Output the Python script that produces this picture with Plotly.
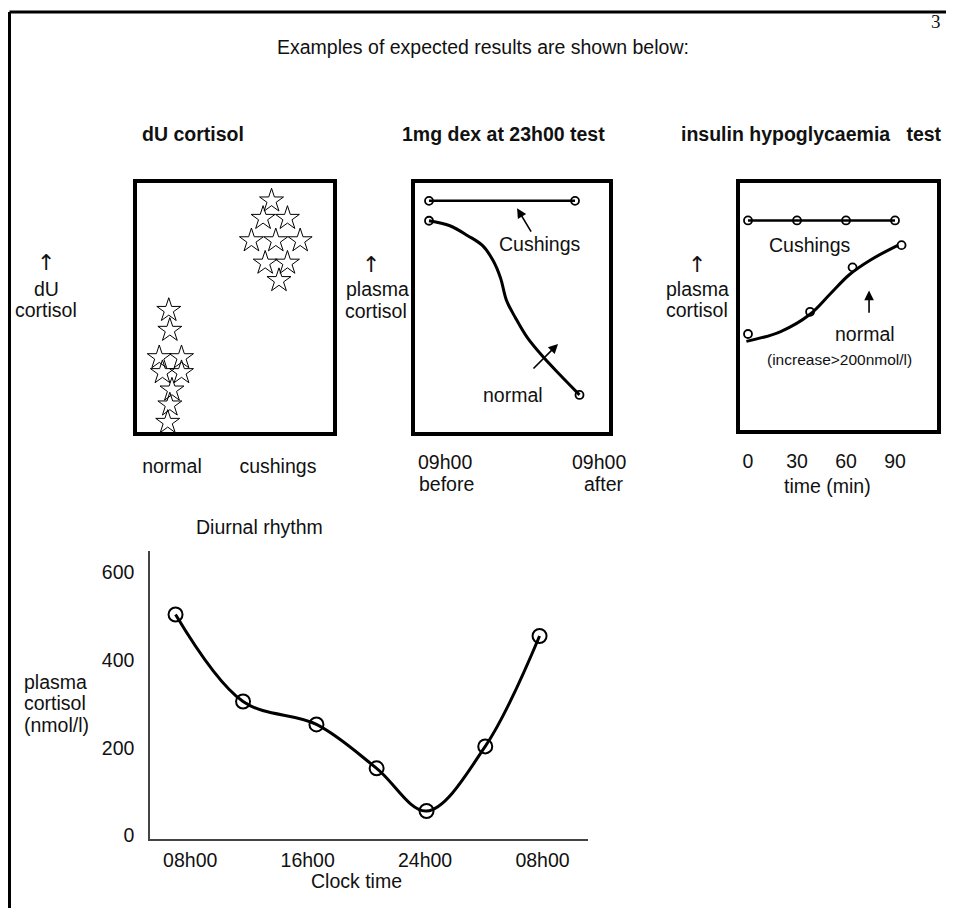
import plotly.graph_objects as go

# the page body has an 8px margin, so the figure is drawn 8px smaller than the window
PAGE = 8
W, H = 954 - PAGE, 924 - 2 * PAGE

# dU cortisol (arbitrary units); x = group (0 normal, 1 cushings) with scatter
du_groups = ["normal", "cushings"]
du_normal_x = [-0.03, -0.02, -0.12, 0.09, -0.09, 0.09, 0.0, -0.02, -0.04]
du_normal_y = [49, 41, 30, 30, 24, 24, 17, 11, 4]
du_cushing_x = [0.94, 0.86, 1.09, 0.75, 0.98, 1.21, 0.88, 1.09, 1.01]
du_cushing_y = [93, 86, 86, 77, 77, 77, 68, 68, 61]

# 1mg dex at 23h00 (0 = 09h00 before, 1 = 09h00 after)
dex_cushing_x = [0, 0.98]
dex_cushing_y = [93, 93]
dex_curve_x = [0, 0.14, 0.26, 0.36, 0.43, 0.48, 0.52, 0.58, 0.66, 0.77, 0.88, 1.01]
dex_curve_y = [85, 83, 79, 75, 69, 62, 53, 46, 38, 30, 23, 15]
dex_normal_x = [0, 1.01]
dex_normal_y = [85, 15]

# insulin hypoglycaemia test
ins_time = [0, 30, 60, 90]
ins_cushing = [85, 85, 85, 85]
ins_normal_t = [0, 38, 64, 94]
ins_normal = [39, 48, 66, 75]
ins_curve_t = [-1, 20, 38, 50, 62, 75, 92]
ins_curve = [36, 40, 47, 55, 63, 69, 75]

# diurnal rhythm
clock_h = [7.0, 11.6, 16.6, 20.7, 24.1, 28.1, 31.8]
cortisol = [503, 305, 253, 153, 56, 203, 454]
clock_ticks = [8, 16, 24, 32]
clock_labels = ["08h00", "16h00", "24h00", "08h00"]
cort_ticks = [0, 200, 400, 600]

FONT = "Liberation Sans, Arial, sans-serif"
INK = "#111111"
FS = 19.5


def fx(px):
    return (px - PAGE) / W


def fy(py):
    return 1 - (py - PAGE) / H


def box_axis(x0, x1, rng, anchor, **kw):
    d = dict(
        domain=[fx(x0), fx(x1)], range=rng, anchor=anchor,
        showline=True, mirror=True, linecolor="black", linewidth=4,
        showgrid=False, zeroline=False, ticks="", fixedrange=True,
    )
    d.update(kw)
    return d


fig = go.Figure()

# panel 1: stars
star = dict(symbol="star-open", size=18, color="black", line=dict(width=1, color="black"))
fig.add_trace(go.Scatter(x=du_normal_x, y=du_normal_y, mode="markers", marker=star,
                         xaxis="x", yaxis="y"))
fig.add_trace(go.Scatter(x=du_cushing_x, y=du_cushing_y, mode="markers", marker=star,
                         xaxis="x", yaxis="y"))

# panel 2: dex test
small_o = dict(symbol="circle-open", size=8, color="black", line=dict(width=1.8))
fig.add_trace(go.Scatter(x=dex_cushing_x, y=dex_cushing_y, mode="lines+markers",
                         line=dict(color="black", width=2.5), marker=small_o,
                         xaxis="x2", yaxis="y2"))
fig.add_trace(go.Scatter(x=dex_curve_x, y=dex_curve_y, mode="lines",
                         line=dict(color="black", width=3, shape="spline", smoothing=1),
                         xaxis="x2", yaxis="y2"))
fig.add_trace(go.Scatter(x=dex_normal_x, y=dex_normal_y, mode="markers", marker=small_o,
                         xaxis="x2", yaxis="y2"))

# panel 3: insulin test
fig.add_trace(go.Scatter(x=ins_time, y=ins_cushing, mode="lines+markers",
                         line=dict(color="black", width=2.5), marker=small_o,
                         xaxis="x3", yaxis="y3"))
fig.add_trace(go.Scatter(x=ins_curve_t, y=ins_curve, mode="lines",
                         line=dict(color="black", width=3, shape="spline", smoothing=1),
                         xaxis="x3", yaxis="y3"))
fig.add_trace(go.Scatter(x=ins_normal_t, y=ins_normal, mode="markers", marker=small_o,
                         xaxis="x3", yaxis="y3"))

# bottom: diurnal rhythm
fig.add_trace(go.Scatter(x=clock_h, y=cortisol, mode="lines+markers",
                         line=dict(color="black", width=3, shape="spline", smoothing=1),
                         marker=dict(symbol="circle-open", size=14, color="black",
                                     line=dict(width=2)),
                         xaxis="x4", yaxis="y4"))

tick_font = dict(family=FONT, size=FS, color=INK)


def box_yaxis(y0, y1, anchor):
    return dict(domain=[fy(y1), fy(y0)], range=[0, 100], anchor=anchor, showline=True,
                mirror=True, linecolor="black", linewidth=4, showgrid=False,
                zeroline=False, showticklabels=False, ticks="")


fig.update_layout(
    width=W, height=H, autosize=False,
    margin=dict(l=0, r=0, t=0, b=0),
    paper_bgcolor="white", plot_bgcolor="white",
    showlegend=False,
    font=dict(family=FONT, size=FS, color=INK),
    xaxis=box_axis(137, 333, [-0.33, 1.52], "y", tickvals=[0, 1], ticktext=du_groups,
                   tickfont=tick_font, ticklabelstandoff=13),
    yaxis=box_yaxis(185, 436, "x"),
    xaxis2=box_axis(415, 609, [-0.094, 1.208], "y2", showticklabels=False),
    yaxis2=box_yaxis(185, 436, "x2"),
    xaxis3=box_axis(740, 937, [-4.9, 115.7], "y3", tickvals=ins_time,
                    tickfont=tick_font, ticklabelstandoff=10),
    yaxis3=box_yaxis(185, 434, "x3"),
    xaxis4=dict(domain=[fx(150), fx(588)], range=[5.26, 35.1], anchor="y4",
                showline=True, linecolor="#444444", linewidth=1.5, showgrid=False,
                zeroline=False, ticks="", tickvals=clock_ticks, ticktext=clock_labels,
                tickfont=tick_font, ticklabelstandoff=3),
    yaxis4=dict(domain=[fy(846), fy(556)], range=[-6.8, 647], anchor="x4",
                showline=True, linecolor="#444444", linewidth=1.5, showgrid=False,
                zeroline=False, ticks="", tickvals=cort_ticks,
                tickfont=tick_font, ticklabelstandoff=10),
)

ann = []


def text(x, y, s, size=FS, bold=False, xanchor="center", fam=FONT):
    if bold:
        s = "<b>" + s + "</b>"
    ann.append(dict(x=fx(x), y=fy(y), xref="paper", yref="paper", text=s,
                    showarrow=False, xanchor=xanchor, yanchor="middle",
                    font=dict(family=fam, size=size, color=INK)))


text(936, 22, "3", size=19, fam="Liberation Serif, Times New Roman, serif")
text(483, 47, "Examples of expected results are shown below:")
text(193, 135, "dU cortisol", bold=True)
text(503, 135, "1mg dex at 23h00 test", bold=True)
text(811, 135, "insulin hypoglycaemia&nbsp;&nbsp; test", bold=True)

UP = "DejaVu Sans, sans-serif"
text(46, 265, "↑", size=22, fam=UP)
text(46, 291, "dU")
text(46, 313, "cortisol")
text(371, 267, "↑", size=22, fam=UP)
text(377, 292, "plasma")
text(376, 314, "cortisol")
text(697, 267, "↑", size=22, fam=UP)
text(697, 291, "plasma")
text(697, 313, "cortisol")

text(445, 466, "09h00")
text(446, 488, "before")
text(599, 466, "09h00")
text(626, 488, "after", xanchor="right")
text(827, 490, "time (min)")

text(540, 246, "Cushings")
text(513, 398, "normal")
text(810, 247, "Cushings")
text(865, 337, "normal")
text(839, 363, "(increase>200nmol/l)", size=15.5)

text(259, 532, "Diurnal rhythm")
text(356, 889, "Clock time")
text(22, 688, "plasma", xanchor="left")
text(22, 709, "cortisol", xanchor="left")
text(22, 731, "(nmol/l)", xanchor="left")


def arrow(ax, ay, x, y, xr, yr):
    ann.append(dict(x=x, y=y, ax=ax, ay=ay, xref=xr, yref=yr, axref=xr, ayref=yr,
                    text="", showarrow=True, arrowhead=2, arrowsize=1.2,
                    arrowwidth=1.6, arrowcolor="black"))


arrow(0.691, 80, 0.591, 90, "x2", "y2")
arrow(0.691, 25, 0.866, 35.5, "x2", "y2")
arrow(74.1, 47, 74.1, 56.6, "x3", "y3")

fig.update_layout(annotations=ann)

# page frame (top and left edge of the scanned page)
fig.add_shape(type="line", xref="paper", yref="paper", x0=fx(9.5), x1=1,
              y0=fy(12), y1=fy(12), line=dict(color="black", width=3))
fig.add_shape(type="line", xref="paper", yref="paper", x0=fx(9.5), x1=fx(9.5),
              y0=fy(12), y1=0, line=dict(color="black", width=3))

fig.write_html("out.html")
